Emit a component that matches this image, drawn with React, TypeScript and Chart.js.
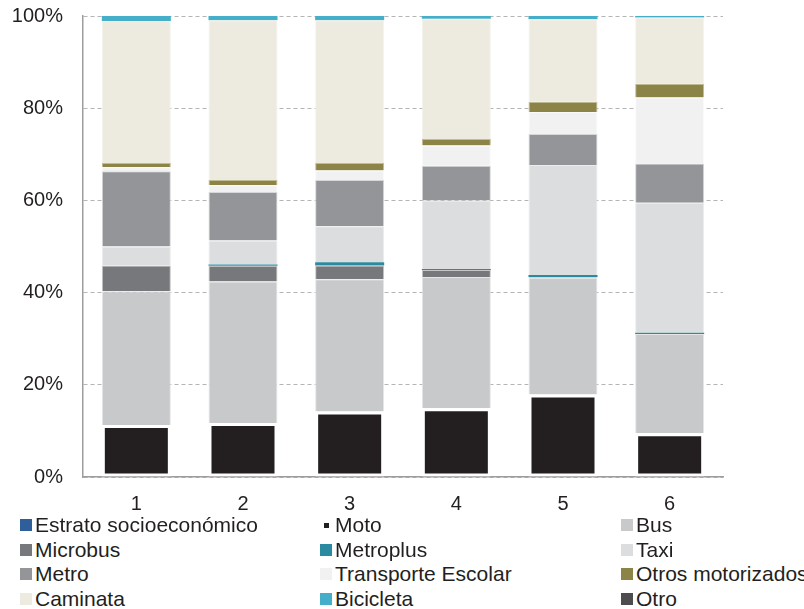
import React, { useEffect, useRef } from "react";
import { Chart, registerables } from "chart.js";

Chart.register(...registerables);

const categories = ["1", "2", "3", "4", "5", "6"];

const moto = [11.3, 11.7, 14.2, 14.9, 17.9, 9.5];
const bus = [29.0, 30.7, 28.7, 28.5, 25.3, 21.5];
const microbus = [5.6, 3.4, 3.0, 1.5, 0.2, 0];
const metroplus = [0, 0.3, 0.7, 0.2, 0.4, 0.3];
const taxi = [4.1, 5.2, 7.8, 14.9, 23.9, 28.2];
const metro = [16.3, 10.5, 10.0, 7.5, 6.7, 8.5];
const transporteEscolar = [0.9, 1.5, 2.1, 4.4, 4.8, 14.3];
const otrosMotorizados = [0.9, 1.1, 1.6, 1.4, 2.2, 3.0];
const caminata = [30.8, 34.7, 31.0, 26.1, 17.9, 14.4];
const bicicleta = [1.1, 0.9, 0.9, 0.6, 0.7, 0.3];
const otro = [0, 0, 0, 0, 0, 0];

const yTicks = [0, 20, 40, 60, 80, 100];

const legendLabels = [
  "Estrato socioeconómico", "Moto", "Bus",
  "Microbus", "Metroplus", "Taxi",
  "Metro", "Transporte Escolar", "Otros motorizados",
  "Caminata", "Bicicleta", "Otro",
];
const legendColors = [
  "#2f5f9a", "#231f20", "#c8c9cb",
  "#77787b", "#2a8a9f", "#dcdddf",
  "#939598", "#f1f1f1", "#8c8346",
  "#edeadf", "#45aec8", "#4d4d4f",
];

const FONT = "'Liberation Sans', Arial, sans-serif";
const TEXT = "#231f20";

export default function App() {
  const ref = useRef<HTMLCanvasElement | null>(null);

  useEffect(() => {
    if (!ref.current) return;
    const seg = (label: string, data: number[], color: string, bw: number, bc: string) => ({
      label,
      data,
      backgroundColor: color,
      borderColor: bc,
      borderWidth: bw,
      barPercentage: 0.647,
      categoryPercentage: 1,
    });
    const chart = new Chart(ref.current, {
      type: "bar",
      data: {
        labels: categories,
        datasets: [
          {
            ...seg("Moto", moto, "#231f20", 3, "#ffffff"),
            borderSkipped: false,
          },
          seg("Bus", bus, "#c8c9cb", 1, "#e6e6e7"),
          seg("Microbus", microbus, "#77787b", 1, "#c4c5c6"),
          seg("Metroplus", metroplus, "#2a8a9f", 0, "#2a8a9f"),
          seg("Taxi", taxi, "#dcdddf", 1, "#ececed"),
          seg("Metro", metro, "#939598", 1, "#d6d7d8"),
          seg("Transporte Escolar", transporteEscolar, "#f1f1f1", 1, "#fafafa"),
          seg("Otros motorizados", otrosMotorizados, "#8c8346", 1, "#c2bc94"),
          seg("Caminata", caminata, "#edeadf", 1, "#f4f2ea"),
          seg("Bicicleta", bicicleta, "#45aec8", 0, "#45aec8"),
          seg("Otro", otro, "#4d4d4f", 0, "#4d4d4f"),
        ],
      },
      options: {
        responsive: false,
        animation: false,
        layout: { padding: { top: 16, right: 81, left: 0, bottom: 0 } },
        plugins: {
          legend: { display: false },
          tooltip: { enabled: false },
        },
        scales: {
          x: {
            stacked: true,
            grid: { display: false, drawTicks: false },
            border: { display: true, color: "#9d9d9d", width: 1.5 },
            ticks: {
              color: TEXT,
              font: { family: FONT, size: 20 },
              padding: 15,
            },
            afterFit: (s: any) => {
              s.height = 43;
              s.paddingLeft = 0;
              s.paddingRight = 0;
            },
          },
          y: {
            stacked: true,
            min: 0,
            max: 100,
            afterBuildTicks: (s: any) => {
              s.ticks = yTicks.map((v) => ({ value: v }));
            },
            grid: {
              color: "#b5b5b5",
              lineWidth: 1,
              drawTicks: false,
            },
            border: { display: true, color: "#9d9d9d", width: 1.5, dash: [4, 3] },
            ticks: {
              color: TEXT,
              font: { family: FONT, size: 20 },
              padding: 20,
              callback: (v: any) => v + "%",
            },
            afterFit: (s: any) => {
              s.width = 83;
              s.paddingTop = 0;
              s.paddingBottom = 0;
            },
          },
        },
      },
    });
    return () => chart.destroy();
  }, []);

  const colLeft = [20, 320, 621];
  const rowCenter = [525, 549.5, 574, 598.5];

  return (
    <div
      style={{
        position: "absolute",
        left: 0,
        top: 0,
        width: 804,
        height: 609,
        overflow: "hidden",
        background: "#ffffff",
      }}
    >
      <canvas ref={ref} width={804} height={520} style={{ display: "block" }} />
      {legendLabels.map((label, i) => {
        const col = i % 3;
        const row = Math.floor(i / 3);
        const small = label === "Moto";
        return (
          <div
            key={label}
            style={{
              position: "absolute",
              left: colLeft[col],
              top: rowCenter[row] - 12,
              height: 24,
              display: "flex",
              alignItems: "center",
              whiteSpace: "nowrap",
              fontFamily: FONT,
              fontSize: 21,
              color: TEXT,
            }}
          >
            <span
              style={{
                width: 12,
                height: 12,
                display: "flex",
                alignItems: "center",
                justifyContent: "center",
                marginRight: 3,
              }}
            >
              <span
                style={{
                  width: small ? 5 : 12,
                  height: small ? 5 : 12,
                  background: legendColors[i],
                  display: "block",
                }}
              />
            </span>
            <span>{label}</span>
          </div>
        );
      })}
    </div>
  );
}
